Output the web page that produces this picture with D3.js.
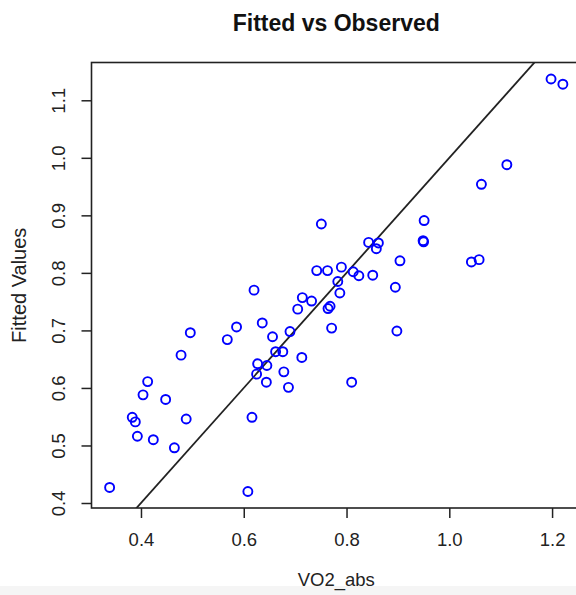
<!DOCTYPE html>
<html>
<head>
<meta charset="utf-8">
<script src="https://cdn.jsdelivr.net/npm/d3@7"></script>
<style>
  body { margin: 0; background: #fff; }
  text { font-family: "Liberation Sans", Arial, Helvetica, sans-serif; }
</style>
</head>
<body>
<div id="chart"></div>
<script>
//Data
var observed = [0.339, 0.383, 0.389, 0.393, 0.404, 0.413, 0.424, 0.448, 0.465, 0.478,
                0.488, 0.496, 0.568, 0.586, 0.608, 0.616, 0.620, 0.625, 0.627, 0.636,
                0.644, 0.645, 0.656, 0.662, 0.676, 0.678, 0.687, 0.690, 0.705, 0.713,
                0.714, 0.732, 0.742, 0.751, 0.763, 0.764, 0.768, 0.771, 0.783, 0.787,
                0.790, 0.810, 0.813, 0.824, 0.843, 0.851, 0.858, 0.862, 0.895, 0.898,
                0.904, 0.949, 0.950, 0.951, 1.043, 1.058, 1.0625, 1.112, 1.198, 1.221];
var fitted   = [0.427, 0.549, 0.541, 0.516, 0.588, 0.611, 0.510, 0.580, 0.496, 0.657,
                0.546, 0.696, 0.684, 0.706, 0.420, 0.549, 0.770, 0.624, 0.642, 0.713,
                0.610, 0.639, 0.689, 0.663, 0.663, 0.628, 0.601, 0.698, 0.737, 0.653,
                0.757, 0.751, 0.804, 0.885, 0.804, 0.738, 0.742, 0.704, 0.785, 0.765,
                0.810, 0.610, 0.802, 0.795, 0.853, 0.796, 0.842, 0.852, 0.775, 0.699,
                0.821, 0.856, 0.854, 0.891, 0.819, 0.823, 0.954, 0.988, 1.137, 1.128];
var xTicks = [0.4, 0.6, 0.8, 1.0, 1.2];
var yTicks = [0.4, 0.5, 0.6, 0.7, 0.8, 0.9, 1.0, 1.1];

//Dimensions
var width = 576, height = 595;
var plot = {left: 91.5, right: 581, top: 62.5, bottom: 508};

var svg = d3.select("#chart").append("svg")
            .attr("width", width)
            .attr("height", height);

//light strip at the very bottom
svg.append("rect")
   .attr("x", 0).attr("y", 586)
   .attr("width", width).attr("height", 9)
   .attr("fill", "#f5f5f5");

//R style range: data extent padded 4%
function pad(ext){ var d = (ext[1] - ext[0]) * 0.04; return [ext[0] - d, ext[1] + d]; }

var x = d3.scaleLinear().domain(pad(d3.extent(observed))).range([plot.left, plot.right]);
var y = d3.scaleLinear().domain(pad(d3.extent(fitted))).range([plot.bottom, plot.top]);

svg.append("clipPath").attr("id", "plotClip")
   .append("rect")
   .attr("x", plot.left).attr("y", plot.top)
   .attr("width", plot.right - plot.left).attr("height", plot.bottom - plot.top);

//Axes
var xAxis = svg.append("g")
    .attr("transform", "translate(0," + plot.bottom + ")")
    .call(d3.axisBottom(x).tickValues(xTicks).tickFormat(d3.format(".1f")).tickSize(10).tickPadding(15));
xAxis.select(".domain").remove();
xAxis.selectAll("line").attr("stroke", "#222").attr("stroke-width", 1.5);
xAxis.selectAll("text").attr("font-size", 18.5).attr("fill", "#222")
     .style("font-family", "'Liberation Sans', Arial, sans-serif");

var yAxis = svg.append("g")
    .attr("transform", "translate(" + plot.left + ",0)")
    .call(d3.axisLeft(y).tickValues(yTicks).tickFormat(d3.format(".1f")).tickSize(10));
yAxis.select(".domain").remove();
yAxis.selectAll("line").attr("stroke", "#222").attr("stroke-width", 1.5);
yAxis.selectAll("text")
     .attr("x", null).attr("dy", null)
     .attr("text-anchor", "middle")
     .attr("transform", "translate(-27,0) rotate(-90)")
     .attr("font-size", 18.5).attr("fill", "#222")
     .style("font-family", "'Liberation Sans', Arial, sans-serif");

//Reference line y = x
var lo = Math.min(x.domain()[0], y.domain()[0]), hi = Math.max(x.domain()[1], y.domain()[1]);
svg.append("line")
   .attr("clip-path", "url(#plotClip)")
   .attr("x1", x(lo)).attr("y1", y(lo))
   .attr("x2", x(hi)).attr("y2", y(hi))
   .attr("stroke", "#222").attr("stroke-width", 1.8);

//Points
svg.selectAll(".dot")
   .data(observed)
   .enter()
   .append("circle")
   .attr("class", "dot")
   .attr("cx", function (d) { return x(d); })
   .attr("cy", function (d, i) { return y(fitted[i]); })
   .attr("r", 4.5)
   .attr("fill", "none")
   .attr("stroke", "#0000ff")
   .attr("stroke-width", 1.9);

//Box
svg.append("rect")
   .attr("x", plot.left).attr("y", plot.top)
   .attr("width", plot.right - plot.left).attr("height", plot.bottom - plot.top)
   .attr("fill", "none").attr("stroke", "#222").attr("stroke-width", 1.6);

//Titles
svg.append("text")
   .attr("x", (plot.left + plot.right) / 2).attr("y", 31)
   .attr("text-anchor", "middle")
   .attr("font-size", 23).attr("font-weight", "bold").attr("fill", "#111")
   .text("Fitted vs Observed");

svg.append("text")
   .attr("x", (plot.left + plot.right) / 2).attr("y", 586)
   .attr("text-anchor", "middle")
   .attr("font-size", 18.5).attr("fill", "#222")
   .text("VO2_abs");

svg.append("text")
   .attr("transform", "translate(26," + (plot.top + plot.bottom) / 2 + ") rotate(-90)")
   .attr("text-anchor", "middle")
   .attr("font-size", 20).attr("fill", "#222")
   .text("Fitted Values");
</script>
</body>
</html>
